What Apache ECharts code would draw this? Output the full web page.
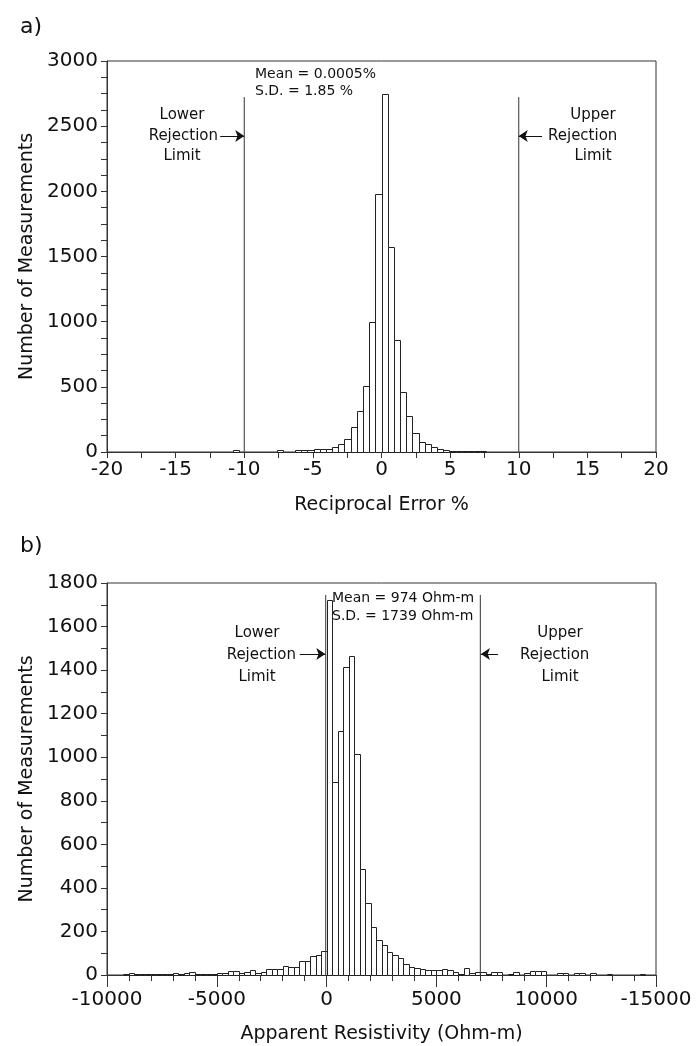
<!DOCTYPE html>
<html>
<head>
<meta charset="utf-8">
<script src="https://cdn.jsdelivr.net/npm/echarts@6/dist/echarts.min.js"></script>
<style>
html,body{margin:0;padding:0;background:#fff;}
#main{width:699px;height:1046px;}
</style>
</head>
<body>
<div id="main"></div>
<script>
// ---------- Panel a: Reciprocal error histogram ----------
const aBinWidth = 0.45;
const aFirstBinStart = -10.8;
const aCounts = [15,0,0,0,0,0,0,15,0,0,13,13,18,26,26,26,38,59,97,192,315,507,1000,1980,
                 2745,1570,860,461,276,146,77,59,38,23,13,8,8,8,8,8,8];
const aRejection = [-10, 10];
const aRejectionTop = 2723;
const aArrowY = 2424;
const aArrowLower = [-11.75, -10];
const aArrowUpper = [11.7, 10];
const aXTicks = ['-20','-15','-10','-5','0','5','10','15','20'];
const aYTicks = ['0','500','1000','1500','2000','2500','3000'];

// ---------- Panel b: Apparent resistivity histogram ----------
const bBinWidth = 250;
const bFirstBinStart = -9250;
const bCounts = [5,11,6,6,6,6,6,6,6,11,5,8,14,5,5,5,5,8,8,18,18,8,15,23,8,15,26,26,26,42,35,35,62,62,85,92,112,
                 1720,884,1121,1414,1466,1016,486,332,220,162,139,105,92,77,49,35,31,26,23,23,23,28,23,15,5,31,8,12,12,5,15,15,0,5,15,0,8,18,18,18,0,0,8,8,0,8,8,0,8,0,0,5,0,0,0,0,0,5];
const bRejection = [-40, 7000];
const bRejectionTop = 1745;
const bArrowY = 1474;
const bArrowLower = [-1220, -60];
const bArrowUpper = [7800, 7030];
const bXTicks = ['-10000','-5000','0','5000','10000','-15000'];
const bYTicks = ['0','200','400','600','800','1000','1200','1400','1600','1800'];

function histData(first, width, counts){
  const out = [];
  counts.forEach((c,i)=>{ if(c>0){ const s = first + i*width; out.push([s, s+width, c]); } });
  return out;
}
function renderHist(params, api){
  const p0 = api.coord([api.value(0), api.value(2)]);
  const p1 = api.coord([api.value(1), 0]);
  return {type:'rect', shape:{x:Math.round(p0[0])+0.5, y:Math.round(p0[1])+0.5,
    width:Math.round(p1[0])-Math.round(p0[0]), height:Math.round(p1[1])-Math.round(p0[1])},
    style:{fill:'#fff', stroke:'#222', lineWidth:1}};
}

const FONT = 'DejaVu Sans';
function xAxisCfg(grid, min, max, interval, minorSplit, labels, name, majorLen, minorLen, margin, nameGap){
  return {type:'value', gridIndex:grid, min:min, max:max, interval:interval,
    axisLine:{show:true, onZero:false, lineStyle:{color:'#333', width:1}}, splitLine:{show:false},
    axisTick:{show:true, inside:false, length:majorLen, lineStyle:{color:'#333'}},
    minorTick:{show:true, splitNumber:minorSplit, length:minorLen, lineStyle:{color:'#333'}},
    minorSplitLine:{show:false},
    axisLabel:{fontFamily:FONT, fontSize:20, color:'#111', margin:margin,
      formatter:(v)=>labels[Math.round((v-min)/interval)]},
    name:name, nameLocation:'middle', nameGap:nameGap,
    nameTextStyle:{fontFamily:FONT, fontSize:19, color:'#111'}};
}
function yAxisCfg(grid, max, interval, minorSplit, labels){
  return {type:'value', gridIndex:grid, min:0, max:max, interval:interval,
    axisLine:{show:true, onZero:false, lineStyle:{color:'#333', width:1}}, splitLine:{show:false},
    axisTick:{show:true, length:6, lineStyle:{color:'#333'}},
    minorTick:{show:true, splitNumber:minorSplit, length:6, lineStyle:{color:'#333'}},
    axisLabel:{fontFamily:FONT, fontSize:20, color:'#111', margin:9,
      formatter:(v)=>labels[Math.round(v/interval)]},
    name:'Number of Measurements', nameLocation:'middle', nameGap:57,
    nameTextStyle:{fontFamily:FONT, fontSize:19, color:'#111'}};
}
function vLines(grid, xs, top){
  return xs.map(x=>({type:'line', xAxisIndex:grid, yAxisIndex:grid, data:[[x,0],[x,top]],
    symbol:'none', silent:true, lineStyle:{color:'#333', width:1}, z:5}));
}
function arrows(grid, y, segs){
  return {type:'lines', coordinateSystem:'cartesian2d', xAxisIndex:grid, yAxisIndex:grid,
    symbol:['none','arrow'], symbolSize:9, silent:true,
    lineStyle:{color:'#111', width:1, opacity:1}, z:6,
    data:segs.map(s=>({coords:[[s[0],y],[s[1],y]]}))};
}
function txt(x, y, text, size, align){
  return {type:'text', x:x, y:y, style:{text:text, fontFamily:FONT, fontSize:size, fill:'#111',
    textAlign:align||'left', textVerticalAlign:'middle'}};
}

const chart = echarts.init(document.getElementById('main'), null, {renderer:'canvas'});
chart.setOption({
  animation:false,
  backgroundColor:'#fff',
  grid:[
    {left:107, right:43, top:61, height:391, show:true, borderColor:'#333', borderWidth:1},
    {left:107, right:43, top:583, height:392, show:true, borderColor:'#333', borderWidth:1}
  ],
  xAxis:[
    xAxisCfg(0, -20, 20, 5, 2, aXTicks, 'Reciprocal Error %', 6, 6, 8, 44),
    xAxisCfg(1, -10000, 15000, 5000, 5, bXTicks, 'Apparent Resistivity (Ohm-m)', 12, 6, 15, 50)
  ],
  yAxis:[ yAxisCfg(0, 3000, 500, 4, aYTicks), yAxisCfg(1, 1800, 200, 2, bYTicks) ],
  series:[
    {type:'custom', xAxisIndex:0, yAxisIndex:0, renderItem:renderHist, encode:{x:[0,1], y:2},
      data:histData(aFirstBinStart, aBinWidth, aCounts), silent:true},
    {type:'custom', xAxisIndex:1, yAxisIndex:1, renderItem:renderHist, encode:{x:[0,1], y:2},
      data:histData(bFirstBinStart, bBinWidth, bCounts), silent:true},
    ...vLines(0, aRejection, aRejectionTop),
    ...vLines(1, bRejection, bRejectionTop),
    arrows(0, aArrowY, [aArrowLower, aArrowUpper]),
    arrows(1, bArrowY, [bArrowLower, bArrowUpper])
  ],
  graphic:[
    txt(20, 27, 'a)', 22),
    txt(20, 546, 'b)', 22),
    txt(255, 74, 'Mean = 0.0005%', 14),
    txt(255, 91, 'S.D. = 1.85 %', 14),
    txt(182, 115, 'Lower', 15, 'center'),
    txt(218, 136, 'Rejection', 15, 'right'),
    txt(182, 156, 'Limit', 15, 'center'),
    txt(593, 115, 'Upper', 15, 'center'),
    txt(548, 136, 'Rejection', 15, 'left'),
    txt(593, 156, 'Limit', 15, 'center'),
    txt(332, 598, 'Mean = 974 Ohm-m', 14),
    txt(332, 616, 'S.D. = 1739 Ohm-m', 14),
    txt(257, 633, 'Lower', 15, 'center'),
    txt(296, 655, 'Rejection', 15, 'right'),
    txt(257, 677, 'Limit', 15, 'center'),
    txt(560, 633, 'Upper', 15, 'center'),
    txt(520, 655, 'Rejection', 15, 'left'),
    txt(560, 677, 'Limit', 15, 'center')
  ]
});
</script>
</body>
</html>
